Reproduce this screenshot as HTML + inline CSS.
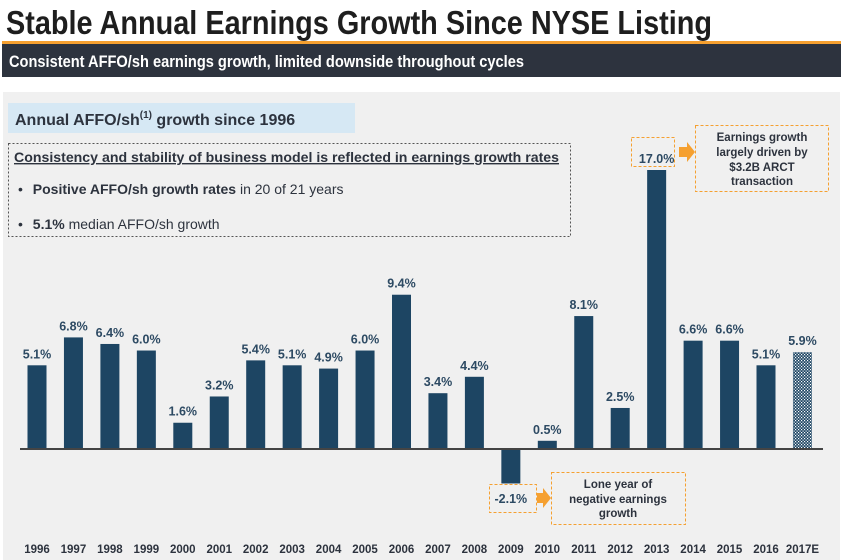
<!DOCTYPE html>
<html><head><meta charset="utf-8"><style>
body{margin:0;background:#fff;width:843px;height:560px;overflow:hidden;font-family:"Liberation Sans",sans-serif}
svg{display:block}
</style></head><body>
<svg width="843" height="560" viewBox="0 0 843 560">
<defs>
<pattern id="dots" width="3" height="3" patternUnits="userSpaceOnUse"><rect width="3" height="3" fill="#1d4563"/><rect x="0" y="0" width="1.2" height="1.2" fill="#fff"/><rect x="1.5" y="1.5" width="1.2" height="1.2" fill="#fff"/></pattern>
</defs>
<text x="6" y="34" font-size="33" font-weight="bold" fill="#1e1e1e" textLength="706" lengthAdjust="spacingAndGlyphs">Stable Annual Earnings Growth Since NYSE Listing</text>
<rect x="2" y="41" width="839" height="3" fill="#f5a030"/>
<rect x="2" y="44" width="839" height="33" fill="#2d333e"/>
<text x="9" y="67" font-size="17" font-weight="bold" fill="#fff" textLength="515" lengthAdjust="spacingAndGlyphs">Consistent AFFO/sh earnings growth, limited downside throughout cycles</text>
<rect x="3" y="92" width="837" height="468" fill="#f0f0f0"/>
<rect x="8" y="103" width="347" height="30" fill="#d6e8f4"/>
<text x="15" y="125" font-size="16" font-weight="bold" fill="#2d333e">Annual AFFO/sh<tspan font-size="10" dy="-7">(1)</tspan><tspan dy="7"> growth since 1996</tspan></text>
<rect x="8.5" y="143.5" width="562" height="93" fill="none" stroke="#555" stroke-dasharray="2,2"/>
<text x="14" y="162" font-size="14" font-weight="bold" fill="#2d333e" text-decoration="underline" textLength="545" lengthAdjust="spacingAndGlyphs">Consistency and stability of business model is reflected in earnings growth rates</text>
<text x="18" y="194" font-size="14" fill="#2d333e">• <tspan dx="6" font-weight="bold">Positive AFFO/sh growth rates</tspan> in 20 of 21 years</text>
<text x="18" y="229" font-size="14" fill="#2d333e">• <tspan dx="6" font-weight="bold">5.1%</tspan> median AFFO/sh growth</text>
<g id="chart"></g>
<rect x="631.5" y="137.5" width="43" height="29" fill="none" stroke="#f5a030" stroke-dasharray="3,2"/>
<polygon points="679,147 687,147 687,142 695,152 687,162 687,157 679,157" fill="#f5a030"/>
<rect x="695.5" y="125.5" width="133" height="66" fill="none" stroke="#f5a030" stroke-dasharray="3,2"/>
<text font-size="11.5" font-weight="bold" fill="#2d333e" text-anchor="middle"><tspan x="762" y="141">Earnings growth</tspan><tspan x="762" y="156">largely driven by</tspan><tspan x="762" y="171">$3.2B ARCT</tspan><tspan x="762" y="185">transaction</tspan></text>
<rect x="489.5" y="484.5" width="47" height="28" fill="none" stroke="#f5a030" stroke-dasharray="3,2"/>
<polygon points="537,493 543,493 543,488 551,498 543,508 543,503 537,503" fill="#f5a030"/>
<rect x="551.5" y="472.5" width="134" height="52" fill="none" stroke="#f5a030" stroke-dasharray="3,2"/>
<text font-size="11.5" font-weight="bold" fill="#2d333e" text-anchor="middle"><tspan x="618" y="488">Lone year of</tspan><tspan x="618" y="503">negative earnings</tspan><tspan x="618" y="517">growth</tspan></text>
</svg>
<script>
const years=["1996","1997","1998","1999","2000","2001","2002","2003","2004","2005","2006","2007","2008","2009","2010","2011","2012","2013","2014","2015","2016","2017E"];
const growth=[5.1,6.8,6.4,6.0,1.6,3.2,5.4,5.1,4.9,6.0,9.4,3.4,4.4,-2.1,0.5,8.1,2.5,17.0,6.6,6.6,5.1,5.9];
const valueLabels=["5.1%","6.8%","6.4%","6.0%","1.6%","3.2%","5.4%","5.1%","4.9%","6.0%","9.4%","3.4%","4.4%","-2.1%","0.5%","8.1%","2.5%","17.0%","6.6%","6.6%","5.1%","5.9%"];
const NS="http://www.w3.org/2000/svg";
const g=document.getElementById('chart');
const x0=37,step=36.45,bw=19,base=449,pxPer=279/17;
const xScale=i=>x0+i*step;
const yScale=v=>base-v*pxPer;
function mk(tag,attrs){const e=document.createElementNS(NS,tag);for(const k in attrs)e.setAttribute(k,attrs[k]);g.appendChild(e);return e;}
growth.forEach((v,i)=>{
  const cx=xScale(i),y=yScale(Math.max(v,0)),h=Math.abs(yScale(v)-base);
  const r=mk('rect',{x:cx-bw/2,y:y,width:bw,height:h,fill:i===years.length-1?'url(#dots)':'#1d4563'});
  
  
  const t=mk('text',{x:cx,y:v>=0?yScale(v)-7:503,'font-size':12.5,'font-weight':'bold',fill:'#2d4a63','text-anchor':'middle'});
  t.textContent=valueLabels[i];
  
  
  const yl=mk('text',{x:cx,y:553,'font-size':11.5,'font-weight':'bold',fill:'#2d333e','text-anchor':'middle'});
  yl.textContent=years[i];
  
  
});
const axis=mk('line',{x1:20,x2:823,y1:base,y2:base,stroke:'#444','stroke-width':2});


</script>
</body></html>
